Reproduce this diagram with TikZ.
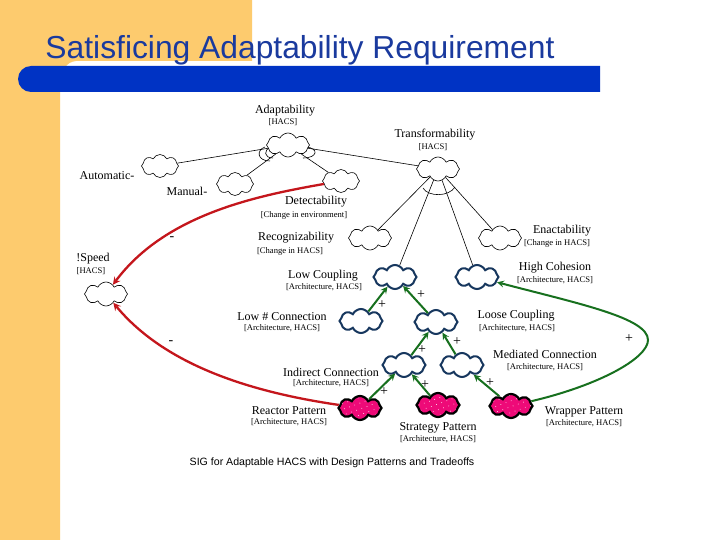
\documentclass[tikz,border=0pt]{standalone}
\usepackage{fontspec}
\setmainfont{Liberation Serif}
\newfontfamily\titlefont{Liberation Sans}
\usetikzlibrary{shapes.symbols,patterns.meta}
\definecolor{slideorange}{HTML}{FDCB6E}
\definecolor{slideblue}{HTML}{0033C4}
\definecolor{titleblue}{HTML}{1A3A9E}
\definecolor{softblue}{HTML}{17375E}
\definecolor{softpink}{HTML}{EE0A78}
\definecolor{claimred}{HTML}{C4161C}
\definecolor{claimgreen}{HTML}{17701E}
\tikzset{
  softgoal/.style={cloud,cloud puffs=8,cloud puff arc=130,cloud ignores aspect,draw=black,fill=white,line width=.6pt,minimum width=43,minimum height=24,inner sep=0pt},
  archgoal/.style={softgoal,draw=softblue,line width=2pt},
  pattgoal/.style={softgoal,draw=black,line width=2.2pt,preaction={fill=softpink},fill=none,pattern={Dots[radius=.45pt,distance=5.5pt,angle=20]},pattern color=white},
  goalname/.style={inner sep=0pt,yshift=-1pt,font=\fontsize{12}{14}\selectfont},
  goaltag/.style={inner sep=0pt,yshift=-.5pt,font=\fontsize{8.6}{10}\selectfont},
  contrib/.style={inner sep=0pt,font=\fontsize{14}{14}\selectfont},
  decomp/.style={line width=.6pt},
  redclaim/.style={->,draw=claimred,line width=2.3pt},
  greenclaim/.style={->,draw=claimgreen,line width=2pt}
}
\begin{document}
\begin{tikzpicture}[>=stealth,x=1pt,y=-1pt]
\useasboundingbox (0,0) rectangle (720,540);
\fill[white] (0,0) rectangle (720,540);
% slide background
\fill[slideorange] (0,0)--(252,0)--(252,61)--(76,61) .. controls (66,62) and (60,70) .. (60,92)--(60,540)--(0,540)--cycle;
\fill[slideblue] (31,66)--(600,66)--(600,92)--(31,92) arc (90:270:13);
\node (title) at (300,50.5) [inner sep=0pt,text=titleblue,font=\titlefont\fontsize{31.8}{34}\selectfont] {Satisficing Adaptability Requirement};

% arcs under the top goals
\draw[decomp] (265,147) .. controls (256,150) and (257,161) .. (270,161);
\draw[decomp] (271,147) .. controls (263,150) and (264,158) .. (273,158);
\draw[decomp] (306,147) .. controls (319,148) and (318,158) .. (303,158);
\draw[decomp] (423,188) .. controls (428,197) and (449,197) .. (455,187);

% goals
\node[softgoal] (adapt) at (288,145) {};
\node[softgoal,minimum width=37,minimum height=23] (autom) at (160,166) {};
\node[softgoal,minimum width=37,minimum height=23] (manual) at (235,184) {};
\node[softgoal,minimum width=37,minimum height=23] (detect) at (341,181) {};
\node[softgoal] (transf) at (438,169) {};
\node[softgoal] (recog) at (370,238) {};
\node[softgoal] (enact) at (500,238) {};
\node[softgoal] (speed) at (106,294) {};
\node[archgoal] (lowcoup) at (395,277) {};
\node[archgoal] (highcoh) at (477,277) {};
\node[archgoal] (lownum) at (361,321) {};
\node[archgoal] (loose) at (436,322) {};
\node[archgoal] (indirect) at (404,365) {};
\node[archgoal] (mediated) at (462,365) {};
\node[pattgoal] (reactor) at (360,408) {};
\node[pattgoal] (strategy) at (438,405) {};
\node[pattgoal] (wrapper) at (511,406) {};

% decompositions
\draw[decomp] (adapt)--(autom);
\draw[decomp] (adapt)--(manual);
\draw[decomp] (adapt)--(detect);
\draw[decomp] (adapt)--(transf);
\draw[decomp] (transf)--(recog);
\draw[decomp] (transf)--(enact);
\draw[decomp] (transf)--(lowcoup);
\draw[decomp] (transf)--(highcoh);

% claims
\draw[greenclaim] (lownum)--(lowcoup);
\draw[greenclaim] (loose)--(lowcoup);
\draw[greenclaim] (indirect)--(loose);
\draw[greenclaim] (mediated)--(loose);
\draw[greenclaim] (reactor)--(indirect);
\draw[greenclaim] (strategy)--(indirect);
\draw[greenclaim] (wrapper)--(mediated);
\draw[greenclaim] (wrapper) .. controls (600,385) and (648,358) .. (648,340) .. controls (648,318) and (580,304) .. (highcoh);
\draw[redclaim] (detect) .. controls (255,196) and (165,215) .. (speed);
\draw[redclaim] (reactor) .. controls (250,392) and (165,365) .. (speed);

% labels
\node[goalname] (adaptname) at (285,110) {Adaptability};
\node[goaltag] (adapttag) at (283,122) {[HACS]};
\node[goalname] (transfname) at (435,134) {Transformability};
\node[goaltag] (transftag) at (433,147) {[HACS]};
\node[goalname] (automname) at (107,175) {Automatic-};
\node[goalname] (manualname) at (187,190) {Manual-};
\node[goalname] (detectname) at (316,201) {Detectability};
\node[goaltag] (detecttag) at (304,215) {[Change in environment]};
\node[goalname] (recogname) at (296,237) {Recognizability};
\node[goaltag] (recogtag) at (290,251) {[Change in HACS]};
\node[goalname] (enactname) at (562,230) {Enactability};
\node[goaltag] (enacttag) at (557,243) {[Change in HACS]};
\node[goalname] (highname) at (555,267) {High Cohesion};
\node[goaltag] (hightag) at (555,280) {[Architecture, HACS]};
\node[goalname] (speedname) at (93,258) {!Speed};
\node[goaltag] (speedtag) at (91,271) {[HACS]};
\node[goalname] (lowcname) at (323,275) {Low Coupling};
\node[goaltag] (lowctag) at (324,287) {[Architecture, HACS]};
\node[goalname] (lownname) at (282,316) {Low \# Connection};
\node[goaltag] (lowntag) at (282,328) {[Architecture, HACS]};
\node[goalname] (loosename) at (516,315) {Loose Coupling};
\node[goaltag] (loosetag) at (517,328) {[Architecture, HACS]};
\node[goalname] (mediname) at (545,353) {Mediated Connection};
\node[goaltag] (meditag) at (545,367) {[Architecture, HACS]};
\node[goalname] (indirname) at (331,371) {Indirect Connection};
\node[goaltag] (indirtag) at (331,383) {[Architecture, HACS]};
\node[goalname] (reactname) at (289,410) {Reactor Pattern};
\node[goaltag] (reacttag) at (289,422) {[Architecture, HACS]};
\node[goalname] (stratname) at (438,427) {Strategy Pattern};
\node[goaltag] (strattag) at (438,439) {[Architecture, HACS]};
\node[goalname] (wrapname) at (584,411) {Wrapper Pattern};
\node[goaltag] (wraptag) at (584,423) {[Architecture, HACS]};

% contributions
\foreach \px/\py/\pname in {382/305/pa,421/295/pb,457/342/pc,422/350/pd,384/392/pe,425/385/pf,490/383/pg,629/339/ph}
  \node[contrib] (\pname) at (\px,\py) {+};
\node[contrib] (ma) at (172,239) {-};
\node[contrib] (mb) at (171,343) {-};

\node (caption) at (332,463) [inner sep=0pt,font=\titlefont\fontsize{10.6}{12}\selectfont] {SIG for Adaptable HACS with Design Patterns and Tradeoffs};
\end{tikzpicture}
\end{document}
